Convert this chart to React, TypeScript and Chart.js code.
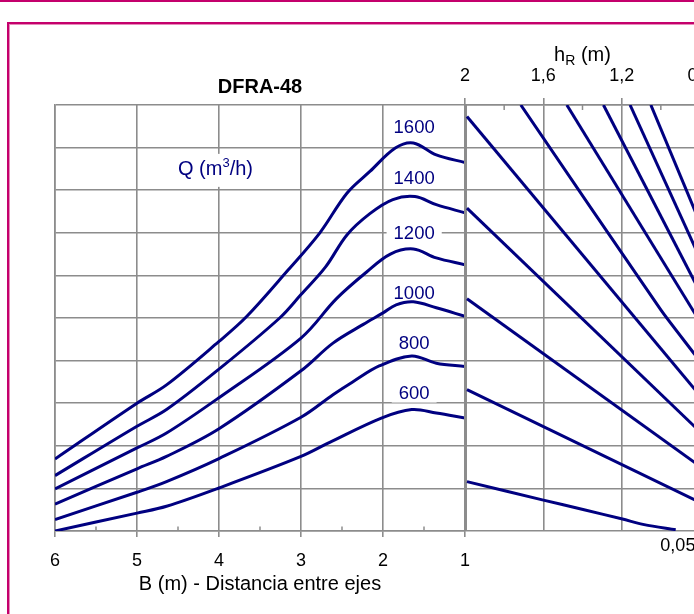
import React, { useEffect, useRef } from 'react';
import { Chart, registerables } from 'chart.js';

Chart.register(...registerables);

const FONT = "'Liberation Sans', Arial, Helvetica, sans-serif";
const NAVY = '#000080';
const GRID = '#8c8c8c';
const MAGENTA = '#c4006c';

// ---- Left panel: Q curves vs B (m) ----
const qLabels = ['1600', '1400', '1200', '1000', '800', '600'];

const q1600B = [6, 5, 4.64, 4.0, 3.66, 3.155, 2.77, 2.44, 2.16, 1.85, 1.63, 1.35, 1.0];
const q1600V = [1.69, 3.0, 3.43, 4.45, 5.04, 6.13, 7.0, 7.93, 8.44, 8.99, 9.11, 8.83, 8.65];

const q1400B = [6, 5, 4.64, 4.0, 3.26, 3.0, 2.7, 2.44, 2.16, 1.88, 1.61, 1.35, 1.0];
const q1400V = [1.3, 2.46, 2.85, 3.8, 5.0, 5.55, 6.2, 6.95, 7.45, 7.78, 7.85, 7.66, 7.47];

const q1200B = [6, 5, 4.64, 4.0, 3.0, 2.57, 2.2, 1.91, 1.63, 1.35, 1.0];
const q1200V = [0.99, 1.95, 2.3, 3.13, 4.53, 5.45, 6.08, 6.5, 6.62, 6.41, 6.25];

const q1000B = [6, 5, 4.64, 4.0, 3.0, 2.61, 2.24, 2.0, 1.84, 1.63, 1.35, 1.0];
const q1000V = [0.63, 1.46, 1.75, 2.4, 3.76, 4.41, 4.85, 5.12, 5.31, 5.38, 5.24, 5.04];

const q800B = [6, 5, 4.64, 4.0, 3.0, 2.61, 2.37, 2.04, 1.65, 1.35, 1.0];
const q800V = [0.27, 0.91, 1.16, 1.7, 2.67, 3.2, 3.5, 3.88, 4.11, 3.94, 3.86];

const q600B = [6, 5, 4.64, 4.0, 3.0, 2.65, 2.02, 1.65, 1.35, 1.0];
const q600V = [0.0, 0.42, 0.58, 1.01, 1.75, 2.08, 2.65, 2.85, 2.77, 2.65];

const bTicksMinor = [5.5, 4.5, 3.5, 2.5, 1.5];
const labelB = 1.62;
const labelV = [9.49, 8.29, 6.99, 5.6, 4.42, 3.25];
const qTitleB = 4.5;
const qTitleV = 8.36;

// ---- Right panel: lines vs hR (m) ----
const hRTicksMinor = [1.8, 1.4, 1.0];

const r1H = [1.99, 0.8];
const r1V = [9.73, 3.18];
const r2H = [1.99, 0.8];
const r2V = [7.58, 2.33];
const r3H = [1.99, 0.8];
const r3V = [5.45, 1.52];
const r4H = [1.99, 0.8];
const r4V = [3.32, 0.67];
const r5H = [1.99, 1.605, 1.392, 1.196, 1.085, 0.924];
const r5V = [1.16, 0.73, 0.5, 0.28, 0.15, 0.03];
const t1H = [1.715, 1.0, 0.826, 0.8];
const t1V = [10, 5.19, 4.14, 3.97];
const t2H = [1.48, 0.8];
const t2V = [10, 4.91];
const t3H = [1.293, 0.8];
const t3V = [10, 5.61];
const t4H = [1.157, 0.8];
const t4V = [10, 6.4];
const t5H = [1.051, 0.8];
const t5V = [10, 7.23];

const endLabel = '0,05';
const endLabelH = 0.913;
const endLabelV = -0.345;

const pts = (xs: number[], ys: number[]) => xs.map((x, i) => ({ x, y: ys[i] }));

const lineDs = (label: string, xs: number[], ys: number[], tension: number) => ({
  label,
  data: pts(xs, ys),
  borderColor: NAVY,
  borderWidth: 3,
  pointRadius: 0,
  fill: false,
  tension,
});

const fmt = (v: number) => String(Math.round(v * 100) / 100).replace('.', ',');

const leftDecor = {
  id: 'leftDecor',
  beforeDatasetsDraw(chart: any) {
    const { ctx, scales } = chart;
    const xs = scales.x;
    const ys = scales.y;
    ctx.save();
    ctx.font = `18.5px ${FONT}`;
    ctx.textAlign = 'center';
    ctx.textBaseline = 'middle';
    qLabels.forEach((t, i) => {
      const px = xs.getPixelForValue(labelB);
      const py = ys.getPixelForValue(labelV[i]);
      const w = ctx.measureText(t).width + 14;
      ctx.fillStyle = '#fff';
      ctx.fillRect(px - w / 2, py - 10, w, 20);
      ctx.fillStyle = NAVY;
      ctx.fillText(t, px, py + 1);
    });
    // Q (m3/h)
    const qx = xs.getPixelForValue(qTitleB);
    const qy = ys.getPixelForValue(qTitleV);
    ctx.textAlign = 'left';
    ctx.textBaseline = 'alphabetic';
    ctx.font = `20px ${FONT}`;
    const w1 = ctx.measureText('Q (m').width;
    ctx.font = `13px ${FONT}`;
    const w2 = ctx.measureText('3').width;
    ctx.font = `20px ${FONT}`;
    const w3 = ctx.measureText('/h)').width;
    ctx.fillStyle = '#fff';
    ctx.fillRect(qx - 4, qy - 21, w1 + w2 + w3 + 8, 33);
    ctx.fillStyle = NAVY;
    ctx.fillText('Q (m', qx, qy);
    ctx.font = `13px ${FONT}`;
    ctx.fillText('3', qx + w1, qy - 8);
    ctx.font = `20px ${FONT}`;
    ctx.fillText('/h)', qx + w1 + w2, qy);
    ctx.restore();
  },
  afterDraw(chart: any) {
    const { ctx, chartArea, scales } = chart;
    const xs = scales.x;
    ctx.save();
    ctx.strokeStyle = GRID;
    ctx.lineWidth = 1.5;
    bTicksMinor.forEach((m) => {
      const px = xs.getPixelForValue(m);
      ctx.beginPath();
      ctx.moveTo(px, chartArea.bottom - 4.5);
      ctx.lineTo(px, chartArea.bottom);
      ctx.stroke();
    });
    ctx.font = `bold 20px ${FONT}`;
    ctx.fillStyle = '#000';
    ctx.textAlign = 'center';
    ctx.textBaseline = 'middle';
    ctx.fillText('DFRA-48', (chartArea.left + chartArea.right) / 2, 87);
    ctx.restore();
  },
};

const rightDecor = {
  id: 'rightDecor',
  afterDraw(chart: any) {
    const { ctx, chartArea, scales } = chart;
    const xs = scales.x;
    const ys = scales.y;
    ctx.save();
    ctx.strokeStyle = GRID;
    ctx.lineWidth = 1.5;
    hRTicksMinor.forEach((m) => {
      const px = xs.getPixelForValue(m);
      ctx.beginPath();
      ctx.moveTo(px, chartArea.top);
      ctx.lineTo(px, chartArea.top + 5);
      ctx.stroke();
    });
    // h_R (m)
    ctx.fillStyle = '#000';
    ctx.textBaseline = 'alphabetic';
    ctx.textAlign = 'left';
    ctx.font = `20px ${FONT}`;
    const a = ctx.measureText('h').width;
    ctx.font = `14px ${FONT}`;
    const b = ctx.measureText('R').width;
    ctx.font = `20px ${FONT}`;
    const c = ctx.measureText(' (m)').width;
    const cx = (chartArea.left + chartArea.right) / 2;
    const sx = cx - (a + b + c) / 2;
    const by = 61;
    ctx.fillText('h', sx, by);
    ctx.font = `14px ${FONT}`;
    ctx.fillText('R', sx + a, by + 4);
    ctx.font = `20px ${FONT}`;
    ctx.fillText(' (m)', sx + a + b, by);
    // end label
    ctx.font = `18px ${FONT}`;
    ctx.textAlign = 'center';
    ctx.textBaseline = 'middle';
    ctx.fillText(endLabel, xs.getPixelForValue(endLabelH), ys.getPixelForValue(endLabelV));
    ctx.restore();
  },
};

export default function App() {
  const leftRef = useRef<HTMLCanvasElement>(null);
  const rightRef = useRef<HTMLCanvasElement>(null);

  useEffect(() => {
    const left = new Chart(leftRef.current as HTMLCanvasElement, {
      type: 'line',
      data: {
        datasets: [
          lineDs('1600', q1600B, q1600V, 0.35),
          lineDs('1400', q1400B, q1400V, 0.35),
          lineDs('1200', q1200B, q1200V, 0.35),
          lineDs('1000', q1000B, q1000V, 0.35),
          lineDs('800', q800B, q800V, 0.35),
          lineDs('600', q600B, q600V, 0.35),
        ],
      },
      options: {
        animation: false,
        responsive: false,
        maintainAspectRatio: false,
        layout: { padding: { left: 0, right: 229, top: 105, bottom: 0 } },
        plugins: { legend: { display: false }, tooltip: { enabled: false } },
        scales: {
          x: {
            type: 'linear',
            reverse: true,
            min: 1,
            max: 6,
            position: 'bottom',
            ticks: {
              stepSize: 1,
              color: '#000',
              font: { family: FONT, size: 18 },
              padding: 13,
              maxRotation: 0,
              autoSkip: false,
            },
            grid: { color: GRID, lineWidth: 1.6, tickLength: 6 },
            border: { color: GRID, width: 1.6 },
            title: {
              display: true,
              text: 'B (m) - Distancia entre ejes',
              color: '#000',
              font: { family: FONT, size: 20 },
              padding: { top: 0, bottom: 18 },
            },
            afterFit: (s: any) => {
              s.height = 83;
            },
          },
          y: {
            type: 'linear',
            min: 0,
            max: 10,
            ticks: { display: false, stepSize: 1 },
            grid: { color: GRID, lineWidth: 1.6, drawTicks: false },
            border: { color: GRID, width: 1.6 },
            afterFit: (s: any) => {
              s.width = 55;
            },
          },
        },
      } as any,
      plugins: [leftDecor],
    });

    const right = new Chart(rightRef.current as HTMLCanvasElement, {
      type: 'line',
      data: {
        datasets: [
          lineDs('r1', r1H, r1V, 0),
          lineDs('r2', r2H, r2V, 0),
          lineDs('r3', r3H, r3V, 0),
          lineDs('r4', r4H, r4V, 0),
          lineDs('r5', r5H, r5V, 0.3),
          lineDs('t1', t1H, t1V, 0.2),
          lineDs('t2', t2H, t2V, 0),
          lineDs('t3', t3H, t3V, 0),
          lineDs('t4', t4H, t4V, 0),
          lineDs('t5', t5H, t5V, 0),
        ],
      },
      options: {
        animation: false,
        responsive: false,
        maintainAspectRatio: false,
        layout: { padding: { left: 0, right: 60, top: 0, bottom: 83 } },
        plugins: { legend: { display: false }, tooltip: { enabled: false } },
        scales: {
          x: {
            type: 'linear',
            reverse: true,
            min: 0.8,
            max: 2,
            position: 'top',
            ticks: {
              stepSize: 0.4,
              color: '#000',
              font: { family: FONT, size: 18 },
              padding: 11,
              maxRotation: 0,
              autoSkip: false,
              callback: (v: any) => fmt(Number(v)),
            },
            grid: { color: GRID, lineWidth: 1.6, tickLength: 7 },
            border: { color: GRID, width: 1.6 },
            afterFit: (s: any) => {
              s.height = 105;
            },
          },
          y: {
            type: 'linear',
            min: 0,
            max: 10,
            ticks: { display: false, stepSize: 1 },
            grid: { color: GRID, lineWidth: 1.6, drawTicks: false },
            border: { color: GRID, width: 3 },
            afterFit: (s: any) => {
              s.width = 465;
            },
          },
        },
      } as any,
      plugins: [rightDecor],
    });

    return () => {
      left.destroy();
      right.destroy();
    };
  }, []);

  return (
    <div
      style={{
        position: 'fixed',
        left: 0,
        top: 0,
        width: 694,
        height: 614,
        overflow: 'hidden',
        background: '#fff',
      }}
    >
      <div style={{ position: 'absolute', left: 0, top: 0, width: '100%', height: 2, background: MAGENTA }} />
      <div
        style={{
          position: 'absolute',
          left: 7,
          top: 22,
          width: 900,
          height: 900,
          borderLeft: `2px solid ${MAGENTA}`,
          borderTop: `2px solid ${MAGENTA}`,
          boxShadow: 'inset 1px 1px 0 #e68bb9',
        }}
      />
      <canvas
        ref={leftRef}
        width={694}
        height={614}
        style={{ position: 'absolute', left: 0, top: 0, width: 694, height: 614 }}
      />
      <canvas
        ref={rightRef}
        width={760}
        height={614}
        style={{ position: 'absolute', left: 0, top: 0, width: 760, height: 614 }}
      />
    </div>
  );
}
